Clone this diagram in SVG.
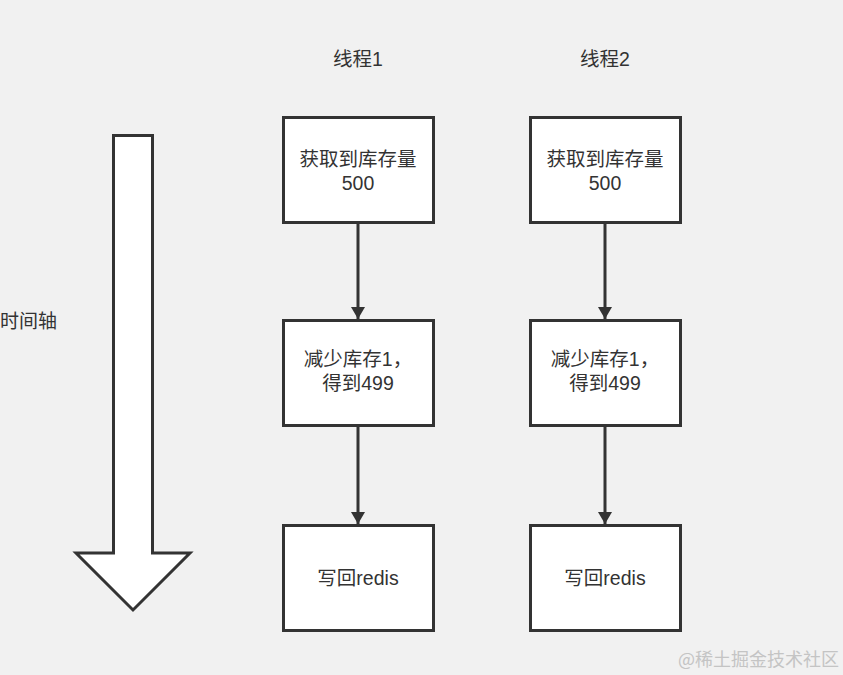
<svg xmlns="http://www.w3.org/2000/svg" width="843" height="675" viewBox="0 0 843 675">
<defs>
<style>
.bg{fill:#f1f1f1}
.box{fill:#ffffff;stroke:#333333;stroke-width:3}
.t{font-family:"Liberation Sans","Noto Sans CJK SC",sans-serif;font-size:19.5px;fill:#333333;text-anchor:middle}
.lbl{font-family:"Liberation Sans","Noto Sans CJK SC",sans-serif;font-size:19px;fill:#333333}
.conn{stroke:#333333;stroke-width:3;fill:none}
.wm{font-family:"Noto Sans CJK SC",sans-serif;font-size:18px;fill:#c4c4c4}
</style>
<marker id="ah" markerWidth="12" markerHeight="14" refX="12" refY="7" orient="auto" markerUnits="userSpaceOnUse" viewBox="0 0 12 14">
<path d="M0,0 L12,7 L0,14 Z" fill="#333333"/>
</marker>
</defs>
<rect class="bg" x="0" y="0" width="843" height="675"/>
<g id="timeline">
<path d="M113.5,135.5 L152.5,135.5 L152.5,553 L190,553 L133,610 L76,553 L113.5,553 Z" fill="#ffffff" stroke="#333333" stroke-width="3" stroke-linejoin="miter"/>
<text class="lbl" x="0" y="328">时间轴</text>
</g>
<g id="title1"><text class="t" x="358" y="66">线程1</text></g>
<g id="title2"><text class="t" x="605" y="66">线程2</text></g>
<g id="t1n1"><rect class="box" x="283.5" y="117.5" width="150" height="105"/><text class="t" x="358" y="166">获取到库存量</text><text class="t" x="358" y="190">500</text></g>
<g id="t1n2"><rect class="box" x="283.5" y="320.5" width="150" height="105"/><text class="t" x="358" y="366">减少库存1，</text><text class="t" x="358" y="390">得到499</text></g>
<g id="t1n3"><rect class="box" x="283.5" y="525.5" width="150" height="105"/><text class="t" x="358" y="585">写回redis</text></g>
<g id="t2n1"><rect class="box" x="530.5" y="117.5" width="150" height="105"/><text class="t" x="605" y="166">获取到库存量</text><text class="t" x="605" y="190">500</text></g>
<g id="t2n2"><rect class="box" x="530.5" y="320.5" width="150" height="105"/><text class="t" x="605" y="366">减少库存1，</text><text class="t" x="605" y="390">得到499</text></g>
<g id="t2n3"><rect class="box" x="530.5" y="525.5" width="150" height="105"/><text class="t" x="605" y="585">写回redis</text></g>
<g id="connectors">
<line class="conn" x1="358" y1="223" x2="358" y2="319" marker-end="url(#ah)"/>
<line class="conn" x1="358" y1="426" x2="358" y2="524" marker-end="url(#ah)"/>
<line class="conn" x1="605" y1="223" x2="605" y2="319" marker-end="url(#ah)"/>
<line class="conn" x1="605" y1="426" x2="605" y2="524" marker-end="url(#ah)"/>
</g>
<text class="wm" x="678" y="666">@稀土掘金技术社区</text>
</svg>
